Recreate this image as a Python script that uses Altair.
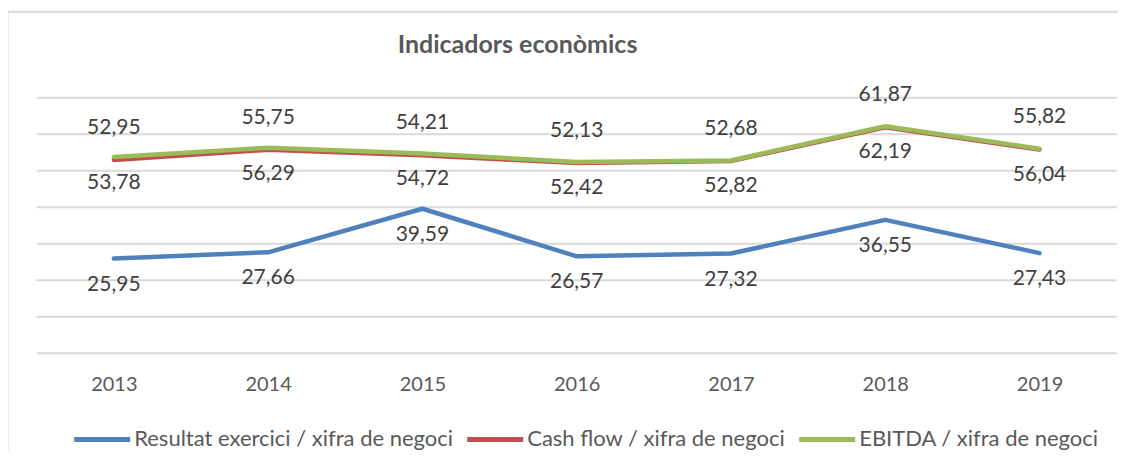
import altair as alt
import pandas as pd

# ---- data ----
years = ["2013", "2014", "2015", "2016", "2017", "2018", "2019"]
resultat = [25.95, 27.66, 39.59, 26.57, 27.32, 36.55, 27.43]
cash_flow = [52.95, 55.75, 54.21, 52.13, 52.68, 61.87, 55.82]
ebitda = [53.78, 56.29, 54.72, 52.42, 52.82, 62.19, 56.04]
series_names = [
    "Resultat exercici / xifra de negoci",
    "Cash flow / xifra de negoci",
    "EBITDA / xifra de negoci",
]
series_colors = ["#4F81BD", "#C0504D", "#9BBB59"]
title_text = "Indicadors econòmics"
y_ticks = [0, 10, 20, 30, 40, 50, 60, 70]

rows = []
for name, vals in zip(series_names, [resultat, cash_flow, ebitda]):
    for yr, v in zip(years, vals):
        rows.append({"year": yr, "value": v, "series": name,
                     "label": f"{v:.2f}".replace(".", ",")})
df = pd.DataFrame(rows)
grid_df = pd.DataFrame({"value": y_ticks})

FONT = "Lato"
W, H = 1080, 255.6

y_scale = alt.Scale(domain=[0, 70], nice=False, zero=True)

base = alt.Chart(df)

x_enc = alt.X(
    "year:O",
    sort=years,
    scale=alt.Scale(type="point", padding=0.5),
    axis=alt.Axis(title=None, labelAngle=0, domain=False, ticks=False, grid=False,
                  labelFont=FONT, labelFontSize=20, labelColor="#595959",
                  labelBaseline="middle", labelPadding=31),
)
y_enc = alt.Y("value:Q", scale=y_scale, axis=None)

gridlines = alt.Chart(grid_df).mark_rule(color="#D9D9D9", strokeWidth=2).encode(
    y=alt.Y("value:Q", scale=y_scale, axis=None),
    x=alt.value(0),
    x2=alt.value(W),
)

lines = base.mark_line(strokeWidth=4.5, strokeCap="round", strokeJoin="round").encode(
    x=x_enc,
    y=y_enc,
    color=alt.Color(
        "series:N",
        scale=alt.Scale(domain=series_names, range=series_colors),
        legend=alt.Legend(
            title=None, orient="none", direction="horizontal",
            legendX=35, legendY=311,
            symbolType="stroke", symbolSize=3136, symbolStrokeWidth=5,
            labelFont=FONT, labelFontSize=22, labelColor="#595959",
            labelOffset=1.5, columnPadding=3, padding=0,
            labelLimit=500,
        ),
    ),
)

def labels(name, dy):
    return base.transform_filter(alt.datum.series == name).mark_text(
        font=FONT, fontSize=21, color="#404040", baseline="middle", dy=dy
    ).encode(x=alt.X("year:O", sort=years), y=alt.Y("value:Q", scale=y_scale), text="label:N")

lab_res = labels(series_names[0], 26)
lab_cash = labels(series_names[1], -32)
lab_ebit = labels(series_names[2], 26)

frame_df = pd.DataFrame({"k": [0]})
frame_left = alt.Chart(frame_df).mark_rule(color="#D9D9D9", strokeWidth=2).encode(
    x=alt.value(-29.2), y=alt.value(-86), y2=alt.value(500)
)
frame_top = alt.Chart(frame_df).mark_rule(color="#D9D9D9", strokeWidth=2).encode(
    x=alt.value(-29.2), x2=alt.value(1300), y=alt.value(-86)
)

chart = alt.layer(frame_left, frame_top, gridlines, lines, lab_res, lab_cash, lab_ebit).properties(
    width=W,
    height=H,
    autosize=alt.AutoSizeParams(type="none"),
    padding={"left": 28.7, "top": 89.7, "right": 1, "bottom": 98},
    title=alt.TitleParams(
        title_text, anchor="start", frame="group", dx=361, offset=-67,
        baseline="alphabetic",
        font=FONT, fontSize=25, fontWeight="bold", color="#595959",
    ),
).configure(background="white").configure_view(strokeWidth=0)

chart.save("out.html", embed_options={"renderer": "svg", "actions": False})
